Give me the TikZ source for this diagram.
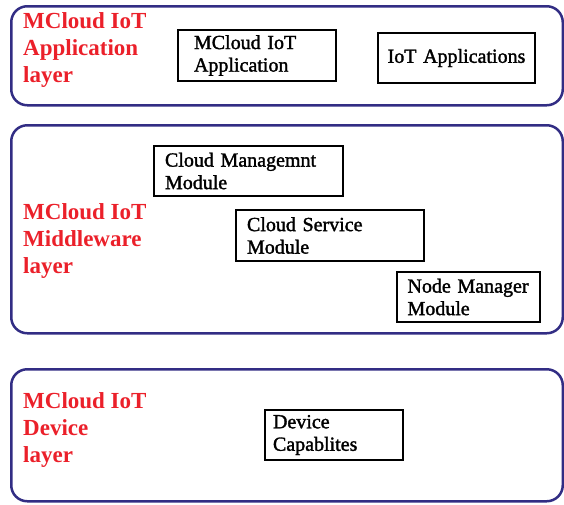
\documentclass[tikz,border=0pt]{standalone}
\usepackage{fontspec}
\setmainfont{Liberation Serif}
\newfontfamily\modulefont[FakeBold=1.6]{Liberation Serif}
\definecolor{layerblue}{RGB}{50,45,132}
\definecolor{layerred}{RGB}{235,32,42}
\tikzset{
  layer/.style={draw=layerblue, line width=2.5pt, rounded corners=16pt,
    anchor=north west, inner sep=0pt},
  layername/.style={text=layerred, anchor=north west, inner sep=0pt, align=left,
    font=\bfseries\fontsize{23}{27}\selectfont},
  module/.style={draw=black, line width=2pt, anchor=north west, align=left,
    inner ysep=0pt, font=\modulefont\fontsize{20}{22.5}\selectfont}
}
\begin{document}
\begin{tikzpicture}[x=1pt,y=-1pt]  % ------ MCloud IoT layers ---------------
    \useasboundingbox (0,0) rectangle (564,504);

    % the three layers
    \node[layer, minimum width=551.5, minimum height=99] (applayer) at (10,5) {};
    \node[layer, minimum width=551.5, minimum height=208] (midlayer) at (10,124) {};
    \node[layer, minimum width=551.5, minimum height=132] (devlayer) at (10,368) {};

    \node[layername] (applbl) at (23,12) {MCloud IoT\\Application\\layer};
    \node[layername] (midlbl) at (23,203) {MCloud IoT\\Middleware\\layer};
    \node[layername] (devlbl) at (23,392) {MCloud IoT\\Device\\layer};

    % application layer
    \node[module, text width=126pt, inner xsep=16pt, minimum height=51] (appmod) at (177,29) {MCloud IoT\\Application};
    \node[module, align=center, text width=149pt, inner xsep=4pt, minimum height=50] (iotapps) at (377,32) {IoT Applications};

    % middleware layer
    \node[module, text width=167pt, inner xsep=11pt, minimum height=50] (cloudmgmt) at (153,145) {Cloud Managemnt\\Module};
    \node[module, text width=166pt, inner xsep=11pt, minimum height=51] (cloudsvc) at (235,209) {Cloud Service\\Module};
    \node[module, text width=122pt, inner xsep=10.5pt, minimum height=50] (nodemgr) at (396,271) {Node Manager\\Module};

    % device layer
    \node[module, text width=122pt, inner xsep=8pt, minimum height=50] (devcap) at (264,409) {Device\\Capablites};
\end{tikzpicture}
\end{document}
